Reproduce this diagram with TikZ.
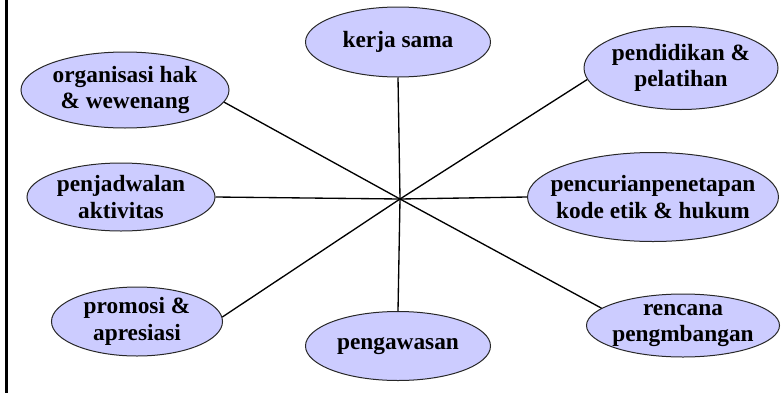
\documentclass[tikz,border=0pt]{standalone}
\usepackage{fontspec}
\setmainfont{Liberation Serif}
\usetikzlibrary{shapes.geometric}

\begin{document}
\begin{tikzpicture}[x=0.75pt,y=0.75pt,yscale=-1,xscale=1,
        oval/.style={ellipse, draw={rgb,255:red,40;green,40;blue,40}, line width=0.75pt, fill={rgb,255:red,204;green,204;blue,255}, inner sep=0pt},
        ovaltext/.style={inner sep=0.75pt, align=center, font=\fontsize{17.5}{20}\selectfont\bfseries},
        spoke/.style={line width=1pt}]
        \path [use as bounding box] (0,0) rectangle (781,393);

        %Straight Lines [left border]
        \draw [line width=2.25pt]    (6.5,0) -- (6.5,393) ;

        %Shape: Ellipse [kerja]
        \node [oval, minimum width=138.75pt, minimum height=52.5pt] (kerja) at (398,42) {};
        %Shape: Ellipse [pengawasan]
        \node [oval, minimum width=138.75pt, minimum height=51.75pt] (pengawasan) at (398,346) {};
        %Shape: Ellipse [pendidikan]
        \node [oval, minimum width=145.5pt, minimum height=62.25pt] (pendidikan) at (681,68) {};
        %Shape: Ellipse [penetapan]
        \node [oval, minimum width=188.25pt, minimum height=66.75pt] (penetapan) at (653,197) {};
        %Shape: Ellipse [rencana]
        \node [oval, minimum width=144.75pt, minimum height=47.25pt] (rencana) at (683,325.5) {};
        %Shape: Ellipse [organisasi]
        \node [oval, minimum width=156pt, minimum height=57pt] (organisasi) at (125,90) {};
        %Shape: Ellipse [penjadwalan]
        \node [oval, minimum width=141pt, minimum height=51pt] (penjadwalan) at (121,197) {};
        %Shape: Ellipse [promosi]
        \node [oval, minimum width=128.25pt, minimum height=51.75pt] (promosi) at (137,321.5) {};

        \coordinate (hub) at (400,199);

        %Straight Lines
        \draw [spoke]    (hub) -- (kerja.south) ;
        \draw [spoke]    (hub) -- (pengawasan.north) ;
        \draw [spoke]    (hub) -- (pendidikan.187) ;
        \draw [spoke]    (hub) -- (penetapan.west) ;
        \draw [spoke]    (hub) -- (rencana.168) ;
        \draw [spoke]    (hub) -- (organisasi.-7) ;
        \draw [spoke]    (hub) -- (penjadwalan.east) ;
        \draw [spoke]    (hub) -- (promosi.3) ;

        % Text Node
        \node [ovaltext] (kerja-t) at (kerja) {kerja sama};
        % Text Node
        \node [ovaltext] (pengawasan-t) at (pengawasan) {pengawasan};
        % Text Node
        \node [ovaltext] (pendidikan-t) at (pendidikan) {pendidikan \&\\pelatihan};
        % Text Node
        \node [ovaltext] (penetapan-t) at (penetapan) {pencurianpenetapan\\kode etik \& hukum};
        % Text Node
        \node [ovaltext] (rencana-t) at (rencana) {rencana\\pengmbangan};
        % Text Node
        \node [ovaltext] (organisasi-t) at (organisasi) {organisasi hak\\\& wewenang};
        % Text Node
        \node [ovaltext] (penjadwalan-t) at (penjadwalan) {penjadwalan\\aktivitas};
        % Text Node
        \node [ovaltext] (promosi-t) at (promosi) {promosi \&\\apresiasi};
    \end{tikzpicture}
\end{document}
